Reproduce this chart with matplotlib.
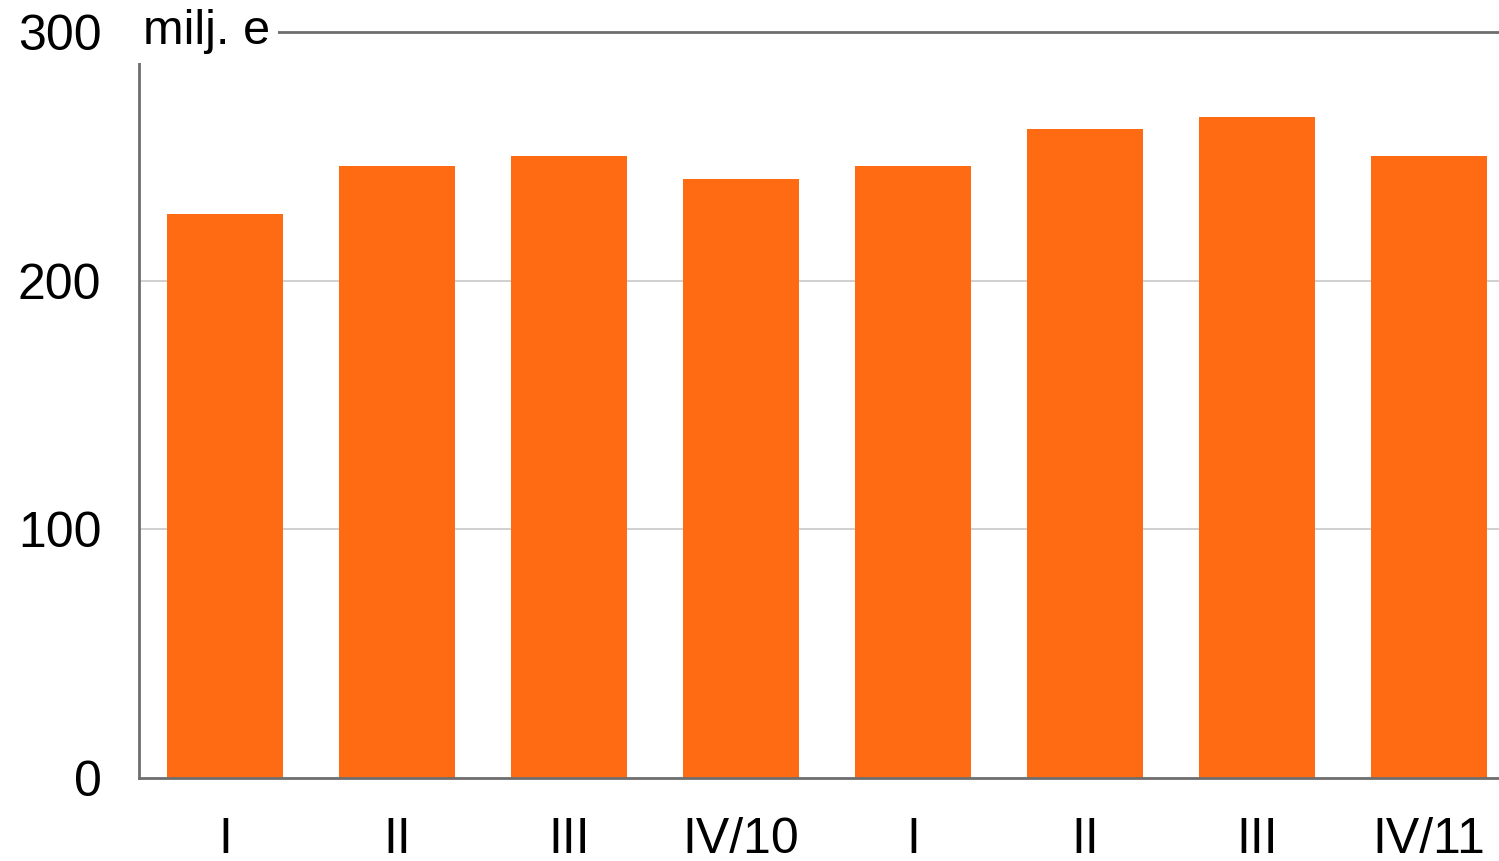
import numpy as np
import matplotlib.pyplot as plt

plt.rcParams['font.family'] = ['Liberation Sans', 'DejaVu Sans']

# neljännesvuosittaiset arvot, milj. euroa
kvartaalit = ['I', 'II', 'III', 'IV/10', 'I', 'II', 'III', 'IV/11']
arvot = [227, 246, 250, 241, 246, 261, 266, 250]
y_tikit = [0, 100, 200, 300]

fig = plt.figure(figsize=(14.99, 8.61), dpi=100)
ax = fig.add_axes([139 / 1499, 1 - 778 / 861, 1 - 139 / 1499, (778 - 32) / 861])

x = np.arange(len(arvot))
ax.bar(x, arvot, width=0.67, color='#ff6b12', zorder=2)

ax.set_xlim(-0.5, 7.407)
ax.set_ylim(0, 300)

# apuviivat
for v in y_tikit[1:-1]:
    ax.axhline(v, color='#c8c8c8', lw=1.2, zorder=1)
ax.axhline(300, color='#6e6e6e', lw=2, zorder=1, clip_on=False)

ax.set_yticks(y_tikit)
ax.set_yticklabels([str(v) for v in y_tikit], fontsize=36)
ax.set_xticks(x)
ax.set_xticklabels(kvartaalit, fontsize=36)
ax.tick_params(axis='y', length=0, pad=27)
ax.tick_params(axis='x', length=0, pad=28)

for s in ['top', 'right']:
    ax.spines[s].set_visible(False)
for s in ['left', 'bottom']:
    ax.spines[s].set_color('#6e6e6e')
    ax.spines[s].set_linewidth(2)

ax.text(4 / 1360, 300, 'milj. e', transform=ax.get_yaxis_transform(),
        fontsize=35, ha='left', va='center', zorder=5,
        bbox=dict(facecolor='white', edgecolor='none', pad=6))

fig.savefig('out.png', dpi=100)
